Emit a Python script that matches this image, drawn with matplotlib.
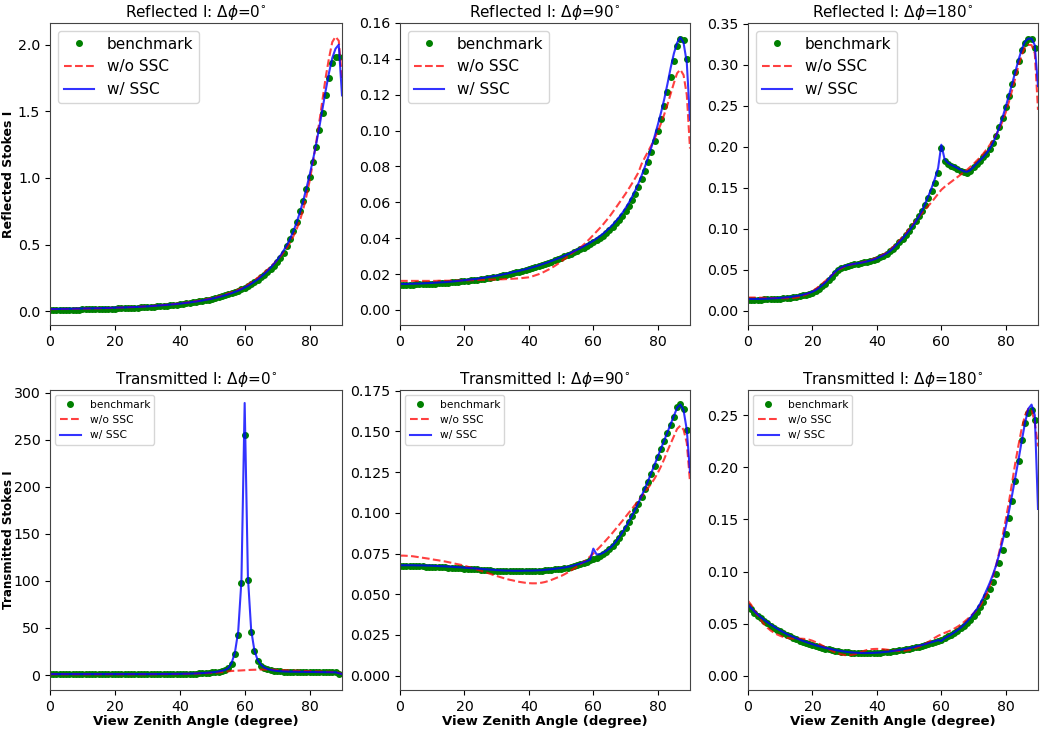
import numpy as np
import matplotlib
matplotlib.use("Agg")
import matplotlib.pyplot as plt
from matplotlib.ticker import MultipleLocator

# view zenith angle grids (degree)
angle_bench = np.arange(0, 90)
angle_line = np.arange(0, 91)

# ---------------- Reflected, dphi = 0 ----------------
r0_bench = [.010, .010, .010, .011, .011, .011, .012, .012, .013, .013,
            .014, .014, .015, .015, .016, .016, .017, .018, .018, .019,
            .020, .021, .022, .023, .024, .025, .026, .027, .029, .030,
            .032, .033, .035, .037, .039, .041, .043, .045, .048, .050,
            .053, .056, .059, .062, .066, .070, .074, .078, .083, .088,
            .093, .099, .105, .112, .119, .127, .136, .145, .155, .166,
            .178, .191, .205, .220, .236, .254, .273, .294, .317, .342,
            .370, .400, .440, .490, .540, .600, .670, .750, .830, .915,
            1.01, 1.12, 1.23, 1.36, 1.49, 1.62, 1.75, 1.86, 1.91, 1.91]
r0_ssc = [.017, .017, .017, .018, .018, .018, .019, .019, .020, .020,
          .021, .021, .022, .022, .023, .023, .024, .025, .025, .026,
          .027, .028, .028, .029, .030, .031, .032, .033, .034, .036,
          .037, .039, .040, .042, .044, .046, .048, .050, .052, .055,
          .057, .060, .063, .066, .070, .073, .077, .081, .086, .090,
          .095, .101, .107, .113, .120, .128, .136, .145, .155, .166,
          .178, .191, .206, .222, .239, .258, .279, .302, .327, .355,
          .385, .418, .455, .497, .545, .600, .665, .740, .825, .920,
          1.02, 1.13, 1.25, 1.38, 1.52, 1.66, 1.79, 1.90, 1.97, 2.00, 1.62]
r0_nossc = [.016, .016, .016, .016, .017, .017, .017, .018, .018, .019,
            .019, .020, .020, .021, .021, .022, .023, .023, .024, .025,
            .026, .027, .028, .029, .030, .031, .032, .033, .035, .036,
            .038, .039, .041, .043, .045, .047, .049, .051, .054, .056,
            .059, .062, .065, .068, .072, .076, .080, .084, .089, .094,
            .099, .105, .111, .118, .126, .134, .143, .152, .162, .173,
            .185, .200, .216, .233, .251, .270, .290, .311, .333, .357,
            .383, .410, .441, .476, .516, .562, .616, .680, .760, .860,
            .975, 1.11, 1.26, 1.42, 1.59, 1.76, 1.90, 2.02, 2.06, 2.03, 1.75]

# ---------------- Reflected, dphi = 90 ----------------
r90_bench = [.0140, .0140, .0140, .0141, .0141, .0142, .0142, .0143, .0144, .0145,
             .0146, .0147, .0148, .0149, .0150, .0152, .0153, .0155, .0157, .0159,
             .0161, .0163, .0165, .0167, .0169, .0172, .0174, .0177, .0180, .0183,
             .0186, .0189, .0193, .0197, .0201, .0205, .0209, .0213, .0218, .0222,
             .0227, .0232, .0237, .0243, .0249, .0255, .0262, .0269, .0276, .0283,
             .0290, .0298, .0306, .0314, .0322, .0330, .0339, .0348, .0358, .0368,
             .0378, .0390, .0402, .0415, .0430, .0446, .0463, .0482, .0503, .0526,
             .0552, .0580, .0612, .0647, .0686, .0728, .0775, .0826, .0880, .0940,
             .1000, .1065, .1135, .1215, .1300, .1390, .1470, .1510, .1505, .1400]
r90_ssc = [.0145, .0145, .0145, .0146, .0146, .0147, .0147, .0148, .0149, .0150,
           .0151, .0152, .0153, .0154, .0155, .0157, .0158, .0160, .0162, .0164,
           .0166, .0168, .0170, .0172, .0174, .0177, .0179, .0182, .0185, .0188,
           .0191, .0194, .0198, .0202, .0206, .0210, .0214, .0218, .0223, .0227,
           .0232, .0237, .0242, .0248, .0254, .0260, .0266, .0273, .0280, .0287,
           .0294, .0302, .0310, .0318, .0327, .0336, .0345, .0355, .0365, .0375,
           .0386, .0398, .0411, .0425, .0440, .0457, .0475, .0495, .0517, .0541,
           .0568, .0597, .0630, .0666, .0706, .0750, .0798, .0850, .0906, .0967,
           .1032, .1100, .1175, .1260, .1350, .1430, .1490, .1520, .1490, .1380, .1060]
r90_nossc = [.0162, .0162, .0162, .0162, .0162, .0162, .0162, .0162, .0162, .0162,
             .0162, .0162, .0163, .0163, .0163, .0163, .0164, .0164, .0164, .0165,
             .0165, .0165, .0166, .0166, .0167, .0167, .0168, .0168, .0169, .0169,
             .0170, .0171, .0171, .0172, .0173, .0174, .0175, .0176, .0178, .0180,
             .0182, .0187, .0193, .0199, .0206, .0215, .0224, .0234, .0245, .0257,
             .0270, .0283, .0297, .0311, .0325, .0336, .0349, .0364, .0381, .0399,
             .0418, .0437, .0456, .0476, .0498, .0520, .0545, .0570, .0596, .0622,
             .0648, .0676, .0705, .0735, .0767, .0815, .0850, .0884, .0918, .0955,
             .0995, .1040, .1090, .1145, .1205, .1265, .1320, .1340, .1310, .1200, .0900]

# ---------------- Reflected, dphi = 180 ----------------
r180_bench = [.0135, .0135, .0135, .0135, .0136, .0137, .0138, .0140, .0142, .0145,
              .0148, .0151, .0155, .0159, .0164, .0170, .0177, .0185, .0195, .0206,
              .0220, .0240, .0265, .0295, .0330, .0370, .0415, .0460, .0495, .0520,
              .0538, .0550, .0560, .0567, .0573, .0580, .0588, .0597, .0607, .0619,
              .0633, .0650, .0670, .0694, .0722, .0755, .0792, .0832, .0875, .0922,
              .0975, .1030, .1090, .1150, .1220, .1290, .1370, .1460, .1560, .1680,
              .1990, .1830, .1790, .1770, .1750, .1730, .1710, .1690, .1685, .1710,
              .1750, .1790, .1830, .1870, .1915, .1975, .2045, .2135, .2235, .2355,
              .2485, .2620, .2765, .2910, .3050, .3180, .3270, .3310, .3310, .3210]
r180_ssc = [.0143, .0143, .0143, .0143, .0144, .0145, .0146, .0148, .0150, .0153,
            .0156, .0159, .0163, .0167, .0172, .0178, .0185, .0194, .0204, .0216,
            .0231, .0251, .0277, .0308, .0344, .0385, .0430, .0473, .0505, .0527,
            .0543, .0555, .0564, .0571, .0577, .0584, .0592, .0601, .0612, .0624,
            .0639, .0656, .0676, .0699, .0725, .0760, .0800, .0840, .0882, .0927,
            .0975, .1027, .1085, .1148, .1218, .1310, .1400, .1500, .1610, .1740,
            .2025, .1850, .1805, .1780, .1760, .1740, .1720, .1700, .1695, .1715,
            .1755, .1795, .1835, .1875, .1920, .1975, .2045, .2135, .2240, .2360,
            .2490, .2630, .2775, .2920, .3065, .3195, .3285, .3320, .3320, .3240, .2740]
r180_nossc = [.0160, .0160, .0160, .0159, .0158, .0157, .0156, .0155, .0154, .0153,
              .0152, .0152, .0152, .0153, .0155, .0160, .0168, .0180, .0196, .0215,
              .0238, .0265, .0295, .0328, .0362, .0397, .0432, .0465, .0495, .0518,
              .0537, .0551, .0562, .0571, .0579, .0587, .0596, .0606, .0618, .0632,
              .0648, .0666, .0686, .0708, .0738, .0775, .0815, .0857, .0900, .0945,
              .0995, .1045, .1095, .1145, .1190, .1235, .1280, .1325, .1375, .1425,
              .1475, .1510, .1540, .1570, .1600, .1630, .1660, .1690, .1720, .1755,
              .1790, .1830, .1870, .1915, .1965, .2020, .2080, .2145, .2220, .2310,
              .2420, .2550, .2695, .2845, .2995, .3125, .3215, .3245, .3240, .3140, .2450]

# ---------------- Transmitted, dphi = 0 ----------------
t0_bench = [0.9] * 30 + \
           [0.9, 0.9, 0.9, 0.95, 0.95, 1.0, 1.0, 1.05, 1.1, 1.15,
            1.2, 1.25, 1.3, 1.4, 1.5, 1.6, 1.8, 2.0, 2.2, 2.5,
            2.8, 3.2, 3.7, 4.4, 5.3, 7.0, 12.0, 22.0, 43.0, 98.0,
            255.0, 101.0, 46.0, 25.0, 15.0, 10.0, 7.5, 6.0, 5.2, 4.6,
            4.2, 3.9, 3.7, 3.6, 3.5, 3.4, 3.4, 3.3, 3.3, 3.2,
            3.2, 3.1, 3.1, 3.0, 3.0, 2.9, 2.9, 2.8, 2.8, 1.5]
t0_ssc = [1.0] * 30 + \
         [1.0, 1.0, 1.0, 1.05, 1.05, 1.1, 1.1, 1.15, 1.2, 1.25,
          1.3, 1.35, 1.4, 1.5, 1.6, 1.7, 1.9, 2.1, 2.3, 2.6,
          2.9, 3.3, 3.8, 4.5, 5.5, 7.5, 13.0, 24.0, 46.0, 100.0,
          289.0, 104.0, 48.0, 26.0, 16.0, 11.0, 8.0, 6.5, 5.5, 4.8,
          4.3, 4.0, 3.8, 3.7, 3.6, 3.5, 3.5, 3.4, 3.4, 3.3,
          3.3, 3.2, 3.2, 3.1, 3.1, 3.0, 3.0, 2.9, 2.9, 2.0, 1.0]
t0_nossc = [0.8] * 30 + \
           [0.8, 0.8, 0.85, 0.85, 0.9, 0.9, 0.95, 1.0, 1.0, 1.05,
            1.1, 1.15, 1.2, 1.3, 1.4, 1.5, 1.6, 1.8, 1.95, 2.1,
            2.3, 2.5, 2.8, 3.1, 3.5, 4.0, 4.3, 4.5, 4.7, 4.9,
            5.1, 5.3, 5.5, 5.6, 5.7, 5.8, 5.8, 5.8, 5.7, 5.6,
            5.4, 5.2, 5.1, 5.0, 4.8, 4.7, 4.6, 4.5, 4.4, 4.2,
            4.0, 3.9, 3.8, 3.7, 3.6, 3.5, 3.4, 3.2, 3.0, 2.5, 1.0]

# ---------------- Transmitted, dphi = 90 ----------------
t90_bench = [.0672, .0672, .0672, .0672, .0672, .0671, .0671, .0671, .0670, .0670,
             .0669, .0668, .0667, .0666, .0665, .0664, .0663, .0661, .0660, .0659,
             .0658, .0656, .0655, .0653, .0652, .0651, .0649, .0648, .0646, .0645,
             .0643, .0642, .0641, .0641, .0640, .0640, .0640, .0640, .0640, .0641,
             .0641, .0641, .0642, .0643, .0644, .0646, .0648, .0650, .0653, .0655,
             .0657, .0660, .0664, .0668, .0674, .0680, .0686, .0693, .0700, .0708,
             .0716, .0725, .0735, .0747, .0760, .0775, .0795, .0818, .0845, .0875,
             .0908, .0942, .0978, .1016, .1057, .1100, .1145, .1192, .1241, .1290,
             .1340, .1390, .1440, .1490, .1540, .1590, .1650, .1665, .1640, .1510]
t90_ssc = [.0678, .0678, .0678, .0678, .0678, .0677, .0677, .0677, .0676, .0676,
           .0675, .0674, .0673, .0672, .0671, .0670, .0669, .0667, .0666, .0665,
           .0663, .0662, .0660, .0659, .0657, .0656, .0654, .0653, .0651, .0650,
           .0648, .0647, .0646, .0645, .0645, .0644, .0644, .0644, .0644, .0645,
           .0645, .0645, .0646, .0647, .0648, .0650, .0652, .0654, .0656, .0659,
           .0661, .0664, .0668, .0672, .0677, .0683, .0689, .0696, .0703, .0712,
           .0780, .0745, .0745, .0754, .0766, .0781, .0800, .0823, .0850, .0880,
           .0913, .0947, .0983, .1021, .1062, .1105, .1150, .1197, .1246, .1295,
           .1345, .1395, .1445, .1495, .1545, .1595, .1645, .1665, .1630, .1510, .1250]
t90_nossc = [.0737, .0737, .0736, .0735, .0733, .0730, .0727, .0724, .0721, .0718,
             .0714, .0711, .0708, .0704, .0701, .0697, .0693, .0688, .0684, .0680,
             .0675, .0669, .0663, .0657, .0651, .0645, .0638, .0632, .0625, .0618,
             .0612, .0606, .0600, .0594, .0589, .0585, .0580, .0576, .0573, .0570,
             .0568, .0567, .0567, .0568, .0571, .0575, .0581, .0588, .0596, .0604,
             .0612, .0622, .0633, .0645, .0657, .0670, .0684, .0699, .0714, .0732,
             .0750, .0770, .0790, .0811, .0833, .0855, .0878, .0902, .0926, .0950,
             .0975, .1000, .1025, .1050, .1075, .1100, .1126, .1153, .1180, .1210,
             .1245, .1285, .1330, .1380, .1425, .1470, .1515, .1535, .1510, .1430, .1190]

# ---------------- Transmitted, dphi = 180 ----------------
t180_bench = [.0670, .0638, .0607, .0578, .0551, .0526, .0503, .0482, .0462, .0443,
              .0426, .0409, .0393, .0378, .0364, .0351, .0339, .0327, .0316, .0306,
              .0296, .0287, .0278, .0270, .0262, .0255, .0249, .0243, .0238, .0233,
              .0229, .0225, .0222, .0220, .0218, .0217, .0216, .0216, .0217, .0218,
              .0220, .0222, .0225, .0228, .0231, .0235, .0239, .0244, .0249, .0255,
              .0261, .0267, .0274, .0281, .0289, .0297, .0306, .0315, .0325, .0336,
              .0347, .0362, .0378, .0395, .0413, .0433, .0455, .0480, .0508, .0540,
              .0575, .0615, .0660, .0710, .0765, .0830, .0900, .0980, .1080, .1210,
              .1360, .1510, .1680, .1870, .2060, .2260, .2420, .2520, .2550, .2450]
t180_ssc = [.0683, .0650, .0618, .0589, .0562, .0538, .0515, .0493, .0473, .0454,
            .0436, .0419, .0403, .0388, .0374, .0361, .0348, .0336, .0325, .0314,
            .0304, .0294, .0285, .0277, .0269, .0262, .0255, .0249, .0243, .0238,
            .0233, .0229, .0226, .0223, .0221, .0220, .0219, .0219, .0220, .0221,
            .0223, .0225, .0228, .0231, .0235, .0239, .0244, .0249, .0254, .0260,
            .0266, .0273, .0280, .0288, .0296, .0305, .0314, .0323, .0333, .0343,
            .0335, .0362, .0378, .0396, .0416, .0438, .0462, .0490, .0521, .0557,
            .0600, .0640, .0690, .0750, .0820, .0890, .0970, .1060, .1170, .1290,
            .1430, .1580, .1740, .1910, .2080, .2260, .2430, .2560, .2600, .2500, .1600]
t180_nossc = [.0720, .0680, .0630, .0580, .0535, .0495, .0462, .0436, .0415, .0398,
              .0384, .0373, .0365, .0360, .0358, .0357, .0357, .0356, .0353, .0347,
              .0337, .0324, .0309, .0292, .0274, .0257, .0241, .0227, .0215, .0206,
              .0200, .0198, .0200, .0207, .0217, .0229, .0240, .0249, .0255, .0258,
              .0259, .0258, .0256, .0252, .0248, .0244, .0241, .0240, .0240, .0243,
              .0248, .0256, .0266, .0278, .0292, .0308, .0326, .0346, .0366, .0384,
              .0399, .0412, .0424, .0437, .0453, .0471, .0492, .0516, .0542, .0570,
              .0600, .0630, .0668, .0720, .0780, .0860, .0950, .1060, .1190, .1340,
              .1500, .1670, .1860, .2050, .2220, .2380, .2500, .2560, .2550, .2430, .2200]

titles = [r'Reflected I: $\Delta\phi$=0$^{\circ}$',
          r'Reflected I: $\Delta\phi$=90$^{\circ}$',
          r'Reflected I: $\Delta\phi$=180$^{\circ}$',
          r'Transmitted I: $\Delta\phi$=0$^{\circ}$',
          r'Transmitted I: $\Delta\phi$=90$^{\circ}$',
          r'Transmitted I: $\Delta\phi$=180$^{\circ}$']
benches = [r0_bench, r90_bench, r180_bench, t0_bench, t90_bench, t180_bench]
sscs = [r0_ssc, r90_ssc, r180_ssc, t0_ssc, t90_ssc, t180_ssc]
nosscs = [r0_nossc, r90_nossc, r180_nossc, t0_nossc, t90_nossc, t180_nossc]
ylims = [(-0.103, 2.163), (-0.0084, 0.160), (-0.0175, 0.351),
         (-15.9, 302.8), (-0.0088, 0.1754), (-0.0135, 0.274)]
ysteps = [0.5, 0.02, 0.05, 50, 0.025, 0.05]

W, H = 1045, 731
lefts = [50, 400, 748]
widths = [292, 290, 290]
tops = [23, 390]
heights = [302, 300]

fig = plt.figure(figsize=(W / 100, H / 100), dpi=100)

for k in range(6):
    row, col = k // 3, k % 3
    ax = fig.add_axes([lefts[col] / W, 1 - (tops[row] + heights[row]) / H,
                       widths[col] / W, heights[row] / H])
    ax.plot(angle_bench, benches[k], 'o', color='green', markersize=4,
            label='benchmark')
    ax.plot(angle_line, nosscs[k], '--', color='red', alpha=0.75, lw=1.5,
            label='w/o SSC')
    ax.plot(angle_line, sscs[k], '-', color='blue', alpha=0.8, lw=1.5,
            label='w/ SSC')
    ax.set_xlim(0, 90)
    ax.set_ylim(*ylims[k])
    ax.xaxis.set_major_locator(MultipleLocator(20))
    ax.yaxis.set_major_locator(MultipleLocator(ysteps[k]))
    ax.tick_params(labelsize=10.2)
    for s in ax.spines.values():
        s.set_color('#444444')
    ax.set_title(titles[k], fontsize=11, pad=4)
    if row == 0:
        ax.legend(loc='upper left', fontsize=11)
    else:
        ax.legend(loc='upper left', fontsize=7.7)
        ax.set_xlabel('View Zenith Angle (degree)', fontsize=9.5,
                      fontweight='bold', labelpad=1)
    if col == 0:
        if row == 0:
            ax.set_ylabel('Reflected Stokes I', fontsize=9.0, fontweight='bold')
        else:
            ax.set_ylabel('Transmitted Stokes I', fontsize=8.6, fontweight='bold')
        ax.yaxis.set_label_coords(-0.12, 0.5)

fig.savefig('out.png', dpi=100)
